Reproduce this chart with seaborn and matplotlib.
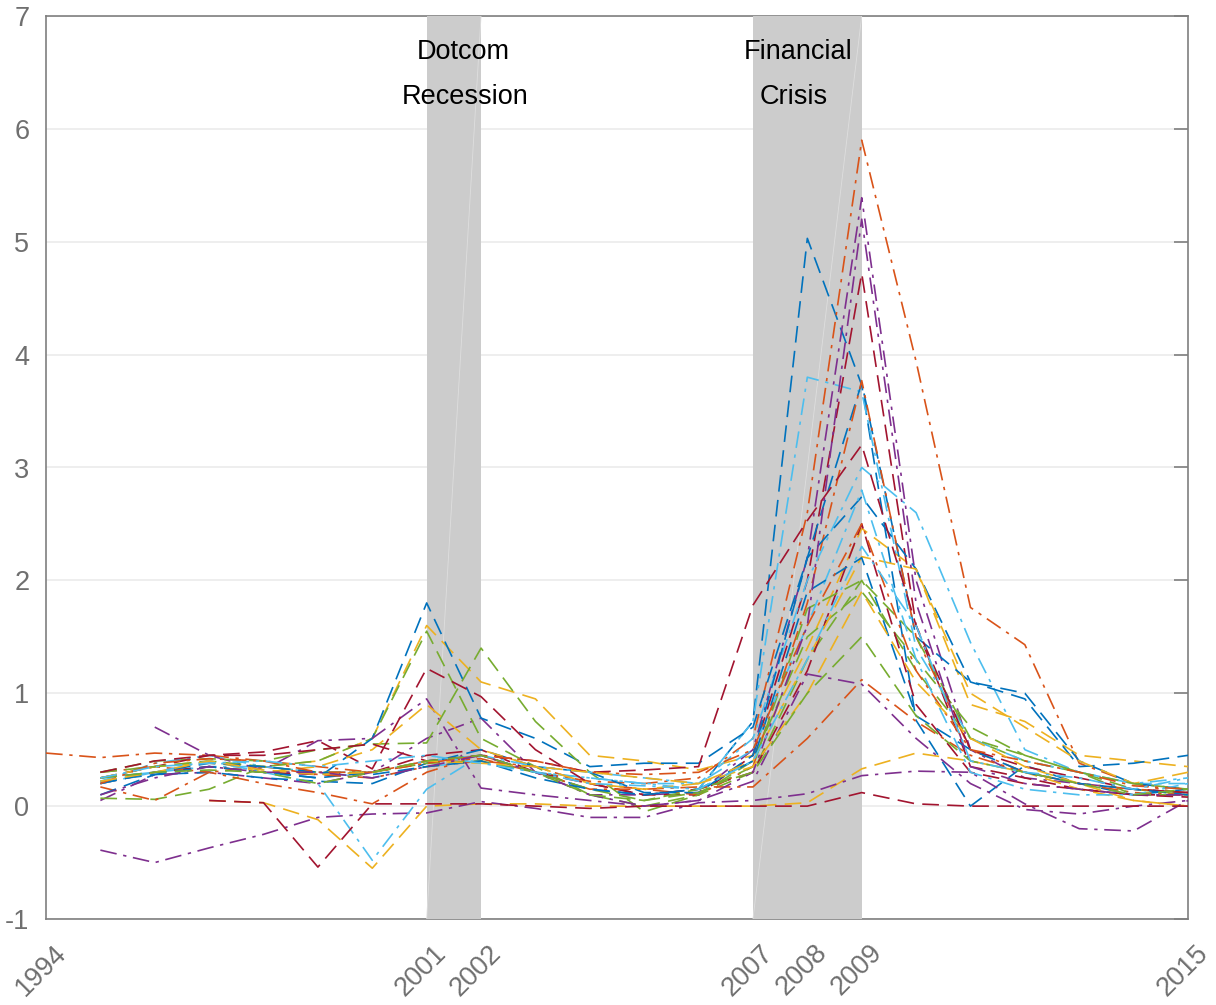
import numpy as np
import pandas as pd
import matplotlib
matplotlib.use("Agg")
import matplotlib.pyplot as plt
from matplotlib.transforms import ScaledTranslation
import seaborn as sns

nan = np.nan
years = list(range(1994, 2016))

# Annual series, 1994-2015 (nan where a series has no observation)
s01 = [nan, .25, .30, .35, .30, .25, .30, .40, .45, .30, .15, .10, .15, .75, 5.03, 3.73, .76, .00, .36, .20, .10, .15]
s02 = [.47, .43, .47, .45, .40, .35, .30, .40, .42, .30, .22, .20, .25, .60, 2.60, 5.90, 3.94, 1.76, 1.43, .38, .20, .10]
s03 = [nan, .25, .35, .38, .35, .40, .60, 1.60, 1.10, .95, .45, .40, .32, .45, 1.40, 2.46, 2.10, .90, .75, .45, .40, .35]
s04 = [nan, .05, .28, .30, .25, .20, .30, .60, .78, .30, .10, .10, .12, .50, 2.20, 5.39, 2.00, .50, .25, .20, .15, .12]
s05 = [nan, .07, .06, .15, .35, .40, .60, 1.55, .60, .35, .10, .00, .10, .30, 1.30, 2.00, 1.20, .60, .40, .30, .15, .10]
s06 = [nan, .25, .30, .35, .35, .30, .25, .35, .40, .30, .25, .20, .15, .75, 3.80, 3.67, 1.40, .60, .40, .30, .20, .20]
s07 = [nan, .20, .30, .35, .30, .28, .30, .45, .50, .30, .20, .10, .10, .45, 2.00, 4.72, 1.60, .35, .25, .15, .10, .10]
s08 = [nan, .22, .28, .35, .30, .25, .60, 1.80, .78, .60, .35, .38, .38, .70, 2.20, 3.75, 1.50, 1.10, 1.00, .40, .20, .15]
s09 = [nan, .17, .05, .30, .35, .28, .25, .35, .40, .35, .20, .15, .10, .35, 1.80, 3.77, 1.50, .50, .30, .20, .12, .10]
s10 = [nan, nan, nan, .05, .03, -.12, -.55, .00, .02, .02, .00, .00, .00, .00, .03, .33, .47, .40, .30, .15, .05, .00]
s11 = [nan, nan, .70, .45, .32, .58, .60, .95, .16, .10, .05, .00, .05, .22, 1.17, 1.08, .60, .20, -.03, -.07, .00, .05]
s12 = [nan, .30, .40, .42, .40, .50, .55, .56, 1.40, .75, .30, -.05, .10, .40, 1.50, 1.90, 1.30, .70, .45, .30, .10, .10]
s13 = [nan, .22, .38, .45, .35, .30, .30, .40, .45, .30, .25, .20, .20, .60, 2.00, 3.00, 2.60, 1.45, .50, .30, .20, .25]
s14 = [nan, .25, .35, .45, .48, .58, .33, 1.22, .97, .50, .20, .10, .15, .30, 1.20, 2.50, .90, .30, .20, .15, .10, .08]
s15 = [nan, .10, .28, .30, .25, .22, .20, .38, .50, .35, .30, .12, .12, .45, 2.20, 2.74, 2.10, 1.10, .95, .35, .38, .45]
s16 = [nan, .30, .35, .30, .20, .12, .02, .30, .45, .30, .15, .15, .17, .17, .60, 1.12, .75, .45, .30, .20, .15, .12]
s17 = [nan, .25, .35, .40, .30, .35, .50, .90, .50, .35, .20, .15, .20, .40, 1.30, 2.21, 2.10, 1.00, .70, .40, .20, .30]
s18 = [nan, -.39, -.50, -.37, -.25, -.10, -.07, -.06, .04, -.02, -.10, -.10, .03, .05, .11, .27, .31, .30, .02, -.20, -.22, .05]
s19 = [nan, .30, .35, .40, .35, .30, .30, .38, .40, .30, .15, .05, .12, .35, 1.75, 2.00, 1.50, .60, .45, .30, .20, .15]
s20 = [nan, .20, .30, .40, .30, .20, -.48, .15, .45, .35, .30, .25, .20, .50, 1.60, 2.80, 1.30, .30, .15, .10, .10, .20]
s21 = [nan, .30, .40, .45, .45, .50, .55, .40, .45, .40, .30, .32, .35, 1.78, 2.53, 3.20, 1.60, .50, .35, .25, .15, .12]
s22 = [nan, .20, .30, .38, .35, .30, .28, .35, .40, .25, .15, .10, .15, .40, 1.90, 2.20, .80, .50, .30, .20, .15, .10]
s23 = [nan, .20, .38, .42, .40, .30, .30, .38, .45, .40, .30, .28, .30, .50, 1.60, 2.50, 1.20, .50, .40, .30, .18, .15]
s24 = [nan, .22, .30, .40, .32, .28, .30, .40, .38, .35, .30, .25, .20, .35, 1.00, 1.90, 1.10, .60, .35, .20, .05, .00]
s25 = [nan, .10, .25, .35, .30, .30, .25, .35, .45, .30, .10, .00, .05, .30, 1.60, 5.20, 1.80, .35, .20, .15, .10, .10]
s26 = [nan, .25, .30, .32, .30, .20, .30, .40, .45, .30, .10, .05, .15, .30, 1.00, 1.50, .80, .40, .30, .20, .10, .15]
s27 = [nan, .25, .35, .38, .40, .35, .40, .45, .38, .30, .20, .18, .15, .40, 1.30, 2.30, 1.60, .40, .30, .25, .15, .25]
s28 = [nan, nan, nan, .05, .03, -.54, .02, .02, .02, .00, -.02, .00, .00, .00, .00, .12, .02, .00, .00, .00, .00, .00]

series = [s01, s02, s03, s04, s05, s06, s07, s08, s09, s10, s11, s12, s13, s14,
          s15, s16, s17, s18, s19, s20, s21, s22, s23, s24, s25, s26, s27, s28]

colors = ["#0072BD", "#D95319", "#EDB120", "#7E2F8E", "#77AC30", "#4DBEEE", "#A2142F"]
dash_styles = [(10, 5), (10, 4, 2, 4)]

recessions = [(2001, 2002, "Dotcom", "Recession", 2001.67, 2001.70),
              (2007, 2009, "Financial", "Crisis", 2007.83, 2007.74)]
xticks = [1994, 2001, 2002, 2007, 2008, 2009, 2015]

rows = []
for k, vals in enumerate(series):
    for yr, v in zip(years, vals):
        if not np.isnan(v):
            rows.append({"year": yr, "value": v, "series": f"s{k + 1:02d}"})
df = pd.DataFrame(rows)
names = [f"s{k + 1:02d}" for k in range(len(series))]
palette = {n: colors[k % 7] for k, n in enumerate(names)}
dashes = {n: dash_styles[(k // 7 + k) % 2] for k, n in enumerate(names)}

sns.set_theme(style="white")
plt.rcParams["font.family"] = ["Liberation Sans", "DejaVu Sans"]

fig = plt.figure(figsize=(12.16, 10.05), dpi=100)
ax = fig.add_axes([46 / 1216, 1 - 919 / 1005, (1188 - 46) / 1216, (919 - 16) / 1005])
ax.set_axisbelow(True)

ax.set_xlim(1994, 2015)
ax.set_ylim(-1, 7)

# horizontal grid under everything
for yv in range(-1, 8):
    ax.axhline(yv, color="#ebebeb", lw=1.2, zorder=0)

# shaded recession bands, drawn over the axes box
for x0, x1, t1, t2, tx1, tx2 in recessions:
    ax.axvspan(x0, x1, color="#cccccc", lw=0, zorder=1, clip_on=False)
    ax.plot([x0, x1], [-1, 7], color="#dedede", lw=0.6, zorder=1.5)
    ax.text(tx1, 6.68, t1, ha="center", va="center", fontsize=19.5, color="black", zorder=4)
    ax.text(tx2, 6.28, t2, ha="center", va="center", fontsize=19.5, color="black", zorder=4)

sns.lineplot(data=df, x="year", y="value", hue="series", style="series",
             palette=palette, dashes=dashes, hue_order=names, style_order=names,
             lw=1.2, legend=False, ax=ax, zorder=3, estimator=None)

ax.set_xlabel("")
ax.set_ylabel("")
ax.set_xticks(xticks)
ax.set_xticklabels([str(t) for t in xticks], rotation=45, ha="right", va="top",
                   rotation_mode="anchor")
ax.set_yticks(range(-1, 8))
ax.set_yticklabels([str(v) for v in range(-1, 8)])

axis_gray = "#7f7f7f"
for sp in ax.spines.values():
    sp.set_color(axis_gray)
    sp.set_linewidth(1.2)
    sp.set_zorder(0.5)
ax.tick_params(axis="both", direction="in", length=10, width=1.2, color=axis_gray,
               labelcolor="#6f6f6f", labelsize=19.5, right=True)
ax.tick_params(axis="y", pad=12)
ax.tick_params(axis="x", pad=15)

shift = ScaledTranslation(7 / 100, 0, fig.dpi_scale_trans)
for lab in ax.get_xticklabels():
    lab.set_transform(lab.get_transform() + shift)

fig.savefig("out.png", dpi=100)
